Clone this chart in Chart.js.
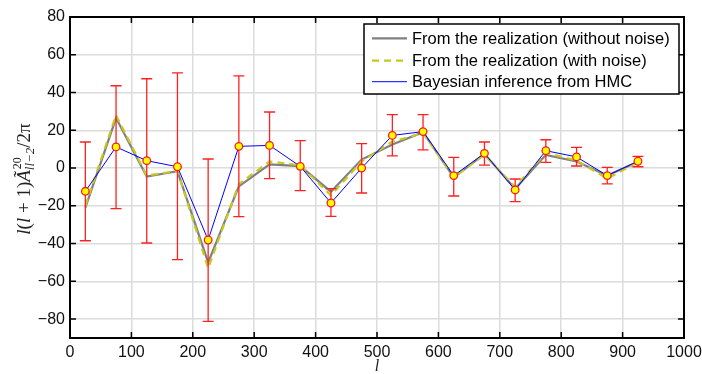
<!DOCTYPE html>
<html>
<head>
<meta charset="utf-8">
<script src="https://cdn.jsdelivr.net/npm/chart.js@4.4.1/dist/chart.umd.min.js"></script>
<style>
  html, body { margin: 0; padding: 0; background: #fff; }
  #wrap { width: 702px; height: 374px; }
</style>
</head>
<body>
<div id="wrap"><canvas id="cl"></canvas></div>
<script>
// multipole bin centres
var ells = [25, 75, 125, 175, 225, 275, 325, 375, 425, 475, 525, 575, 625, 675, 725, 775, 825, 875, 925];
// realization without noise
var noiseless = [-21, 26.5, -4.5, -1.7, -50, -9.7, 2, 1, -12.5, 4.5, 12.5, 19, -5, 7.5, -11, 7, 3.5, -4, 3.3];
// realization with noise
var noisy = [-20, 28, -4, -1.5, -53, -8.5, 3.5, 1.5, -14.5, 3.5, 14, 18.5, -5, 7, -10, 8, 4, -5.5, 3];
// HMC posterior mean and error bar ends
var hmc = [-12.3, 11.2, 3.9, 0.7, -38.1, 11.5, 12, 0.9, -18.5, 0, 17.3, 19.3, -4, 7.8, -11.6, 9.2, 5.9, -4, 3.6];
var errHi = [13.8, 43.6, 47.3, 50.4, 4.8, 48.8, 29.7, 14.5, -10.9, 12.9, 28.3, 28.3, 5.7, 13.8, -5.8, 15, 11, 0.4, 6.2];
var errLo = [-38.5, -21.5, -39.7, -48.5, -81.2, -25.7, -5.6, -12, -25.6, -13.2, 6.4, 9.6, -14.8, 1.6, -17.8, 3, 1.1, -8.4, 0.7];

var xTicks = [0, 100, 200, 300, 400, 500, 600, 700, 800, 900, 1000];
var yTicks = [-80, -60, -40, -20, 0, 20, 40, 60, 80];

function pts(vals) {
    return ells.map(function(l, i) { return {x: l, y: vals[i]}; });
}

var sansFont = "'Liberation Sans', Helvetica, Arial, sans-serif";
var serifFont = "'Liberation Serif', 'DejaVu Serif', serif";

// box, inward ticks, error bars, legend and axis titles
var decor = {
    id: 'decor',
    beforeDatasetDraw: function(chart, args) {
        if (args.index !== 3) return;
        var ctx = chart.ctx, xs = chart.scales.x, ys = chart.scales.y;
        ctx.save();
        ctx.strokeStyle = '#ff2020';
        ctx.lineWidth = 1.3;
        for (var i = 0; i < ells.length; i++) {
            var px = xs.getPixelForValue(ells[i]);
            var hi = ys.getPixelForValue(errHi[i]);
            var lo = ys.getPixelForValue(errLo[i]);
            ctx.beginPath();
            ctx.moveTo(px, hi); ctx.lineTo(px, lo);
            ctx.moveTo(px - 5.5, hi); ctx.lineTo(px + 5.5, hi);
            ctx.moveTo(px - 5.5, lo); ctx.lineTo(px + 5.5, lo);
            ctx.stroke();
        }
        ctx.restore();
    },
    afterDraw: function(chart) {
        var ctx = chart.ctx, a = chart.chartArea;
        var xs = chart.scales.x, ys = chart.scales.y;
        ctx.save();
        // frame
        ctx.strokeStyle = '#000';
        ctx.lineWidth = 2;
        ctx.strokeRect(a.left, a.top, a.right - a.left, a.bottom - a.top);
        ctx.lineWidth = 1.5;
        ctx.beginPath();
        xTicks.forEach(function(v) {
            if (v === 0 || v === 1000) return;
            var px = xs.getPixelForValue(v);
            ctx.moveTo(px, a.bottom); ctx.lineTo(px, a.bottom - 6);
            ctx.moveTo(px, a.top); ctx.lineTo(px, a.top + 6);
        });
        yTicks.forEach(function(v) {
            var py = ys.getPixelForValue(v);
            if (v === 80) return;
            ctx.moveTo(a.left, py); ctx.lineTo(a.left + 6, py);
            ctx.moveTo(a.right, py); ctx.lineTo(a.right - 6, py);
        });
        ctx.stroke();

        // legend
        var lx = 364, ly = 24, lw = 315, lh = 70;
        ctx.fillStyle = '#fff';
        ctx.fillRect(lx, ly, lw, lh);
        ctx.lineWidth = 1.5;
        ctx.strokeStyle = '#000';
        ctx.strokeRect(lx, ly, lw, lh);
        var rows = [38.3, 60.7, 81.7];
        var sets = chart.data.datasets.slice(0, 3);
        ctx.font = '16.5px ' + sansFont;
        ctx.textBaseline = 'middle';
        sets.forEach(function(ds, i) {
            ctx.beginPath();
            ctx.strokeStyle = ds.borderColor;
            ctx.lineWidth = ds.borderWidth;
            ctx.setLineDash(ds.borderDash || []);
            ctx.moveTo(372, rows[i]); ctx.lineTo(407, rows[i]);
            ctx.stroke();
            ctx.setLineDash([]);
            ctx.fillStyle = '#000';
            ctx.fillText(ds.label, 412, rows[i] + 1);
        });

        // x title
        ctx.fillStyle = '#222';
        ctx.font = 'italic 16px ' + serifFont;
        ctx.textAlign = 'center';
        ctx.textBaseline = 'alphabetic';
        ctx.fillText('l', (a.left + a.right) / 2, 371);

        // y title: l(l+1) A~^{20}_{ll-2} / 2pi, rotated
        ctx.translate(30, 179);
        ctx.rotate(-Math.PI / 2);
        var parts = [
            {t: 'l', f: 'italic 19px ', dy: 0},
            {t: '(', f: '19px ', dy: 0},
            {t: 'l', f: 'italic 19px ', dy: 0},
            {t: ' + 1)', f: '19px ', dy: 0},
            {t: '\u00c3', f: 'italic 19px ', dy: 0},
            {t: '20', f: '12px ', dy: -9, sup: true},
            {t: 'll\u22122', f: 'italic 13px ', dy: 4},
            {t: '/2\u03c0', f: '19px ', dy: 0}
        ];
        var total = 0;
        parts.forEach(function(p) {
            ctx.font = p.f + serifFont;
            p.w = ctx.measureText(p.t).width;
            p.adv = p.sup ? 0 : p.w;
            total += p.adv;
        });
        var cx = -total / 2;
        ctx.textAlign = 'left';
        parts.forEach(function(p) {
            ctx.font = p.f + serifFont;
            ctx.fillText(p.t, cx + (p.sup ? 1 : 0), p.dy);
            cx += p.adv;
        });
        ctx.restore();
    }
};

new Chart(document.getElementById('cl'), {
    type: 'line',
    data: {
        datasets: [
            {
                label: 'From the realization (without noise)',
                data: pts(noiseless),
                borderColor: '#808080',
                borderWidth: 2.2,
                pointRadius: 0,
                order: 4
            },
            {
                label: 'From the realization (with noise)',
                data: pts(noisy),
                borderColor: '#c8c81e',
                borderWidth: 2.2,
                borderDash: [7, 5],
                pointRadius: 0,
                order: 3
            },
            {
                label: 'Bayesian inference from HMC',
                data: pts(hmc),
                borderColor: '#0000ff',
                borderWidth: 1,
                pointRadius: 0,
                order: 2
            },
            {
                label: 'markers',
                data: pts(hmc),
                showLine: false,
                pointRadius: 3.8,
                pointBackgroundColor: '#ffff00',
                pointBorderColor: '#ff1a1a',
                pointBorderWidth: 1.3,
                order: 1
            }
        ]
    },
    options: {
        responsive: true,
        maintainAspectRatio: false,
        animation: false,
        clip: false,
        layout: { padding: { top: 17, right: 18, left: 0, bottom: 0 } },
        plugins: {
            legend: { display: false },
            tooltip: { enabled: false }
        },
        scales: {
            x: {
                type: 'linear',
                min: 0,
                max: 1000,
                afterFit: function(s) {
                    s.height = 36;
                    s.paddingLeft = 0;
                    s.paddingRight = 0;
                },
                afterBuildTicks: function(s) { s.ticks = xTicks.map(function(v) { return {value: v}; }); },
                grid: { color: '#dcdcdc', lineWidth: 1.5, drawTicks: false },
                border: { display: false },
                ticks: {
                    color: '#111',
                    padding: 5,
                    maxRotation: 0,
                    font: { family: sansFont, size: 16 },
                    callback: function(v) { return String(v); }
                }
            },
            y: {
                type: 'linear',
                min: -90,
                max: 80,
                afterFit: function(s) { s.width = 70; },
                afterBuildTicks: function(s) { s.ticks = yTicks.map(function(v) { return {value: v}; }); },
                grid: { color: '#dcdcdc', lineWidth: 1.5, drawTicks: false },
                border: { display: false },
                ticks: {
                    color: '#111',
                    padding: 5,
                    font: { family: sansFont, size: 16 },
                    callback: function(v) { return String(v).replace('-', '\u2212'); }
                }
            }
        }
    },
    plugins: [decor]
});
</script>
</body>
</html>
